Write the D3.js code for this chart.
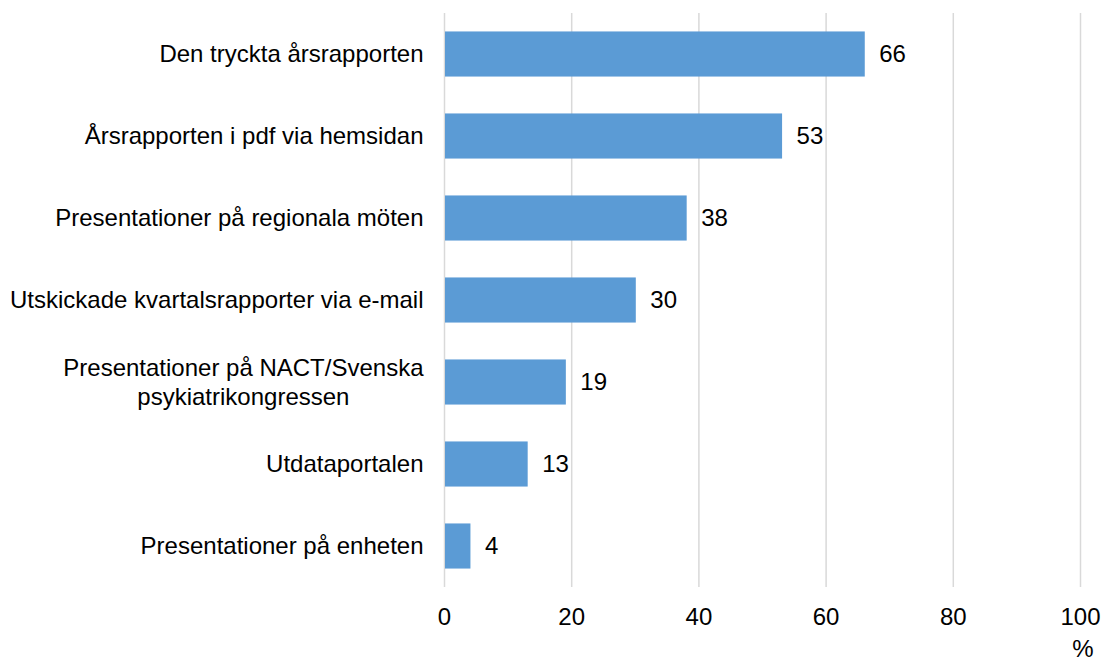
<!doctype html>
<html lang=en>
<head>
  <meta charset="utf-8">
  <title>Kanaler</title>
  <style>
body {
  margin: 0;
  background: #fff;
}
text {
  font-family: "Liberation Sans", Arial, sans-serif;
  fill: #000;
}
  </style>
</head>
<body>
<div id=content></div>
<script src="https://cdn.jsdelivr.net/npm/d3@7"></script>
<script>

  // data
  var categories = [
    "Den tryckta årsrapporten",
    "Årsrapporten i pdf via hemsidan",
    "Presentationer på regionala möten",
    "Utskickade kvartalsrapporter via e-mail",
    "Presentationer på NACT/Svenska\npsykiatrikongressen",
    "Utdataportalen",
    "Presentationer på enheten"
  ]
  var values = [66, 53, 38, 30, 19, 13, 4]
  var xTicks = [0, 20, 40, 60, 80, 100]
  var unitLabel = "%"

  var W = 1101, H = 661
  var fs = 24
  // plot area
  var xLeft = 444.5, xRight = 1080.5, plotTop = 13, plotBottom = 587

  var svg = d3.select("#content").append("svg")
      .attr("width", W)
      .attr("height", H)

  var x = d3.scaleLinear()
      .domain([0, 100])
      .range([xLeft, xRight])

  var y = d3.scaleBand()
      .domain(categories)
      .range([plotTop, plotBottom])
      .paddingInner(0.45)
      .paddingOuter(0.225)

  // gridlines
  svg.append("g")
    .selectAll("line")
    .data(xTicks)
    .join("line")
      .attr("x1", d => x(d))
      .attr("x2", d => x(d))
      .attr("y1", plotTop)
      .attr("y2", plotBottom)
      .attr("stroke", "#d9d9d9")
      .attr("stroke-width", 1.5)

  // bars
  svg.append("g")
    .selectAll("rect")
    .data(values)
    .join("rect")
      .attr("x", x(0) + 0.5)
      .attr("y", (d, i) => y(categories[i]))
      .attr("width", d => x(d) - x(0))
      .attr("height", y.bandwidth())
      .attr("fill", "#5b9bd5")

  // value labels
  svg.append("g")
    .selectAll("text")
    .data(values)
    .join("text")
      .attr("x", d => x(d) + 15)
      .attr("y", (d, i) => y(categories[i]) + y.bandwidth() / 2)
      .attr("dy", "0.35em")
      .attr("font-size", fs)
      .text(d => d)

  // category labels (multi-line ones are centred on each other)
  var lineH = 29
  var catG = svg.append("g")
  categories.forEach(function(c){
    var lines = c.split("\n")
    var cy = y(c) + y.bandwidth() / 2
    var t = catG.append("text")
        .attr("font-size", fs)
    lines.forEach(function(l, k){
      t.append("tspan")
        .attr("y", cy + (k - (lines.length - 1) / 2) * lineH)
        .attr("dy", "0.35em")
        .text(l)
    })
    var maxW = d3.max(t.selectAll("tspan").nodes(), n => n.getComputedTextLength())
    var right = xLeft - 21
    if (lines.length > 1) {
      t.attr("text-anchor", "middle")
      t.selectAll("tspan").attr("x", right - maxW / 2)
    } else {
      t.attr("text-anchor", "end")
      t.selectAll("tspan").attr("x", right)
    }
  })

  // x tick labels
  svg.append("g")
    .selectAll("text")
    .data(xTicks)
    .join("text")
      .attr("x", d => x(d))
      .attr("y", 617)
      .attr("dy", "0.35em")
      .attr("text-anchor", "middle")
      .attr("font-size", fs)
      .text(d => d)

  svg.append("text")
    .attr("x", 1083)
    .attr("y", 649)
    .attr("dy", "0.35em")
    .attr("text-anchor", "middle")
    .attr("font-size", fs)
    .text(unitLabel)

</script>
</body>
</html>
